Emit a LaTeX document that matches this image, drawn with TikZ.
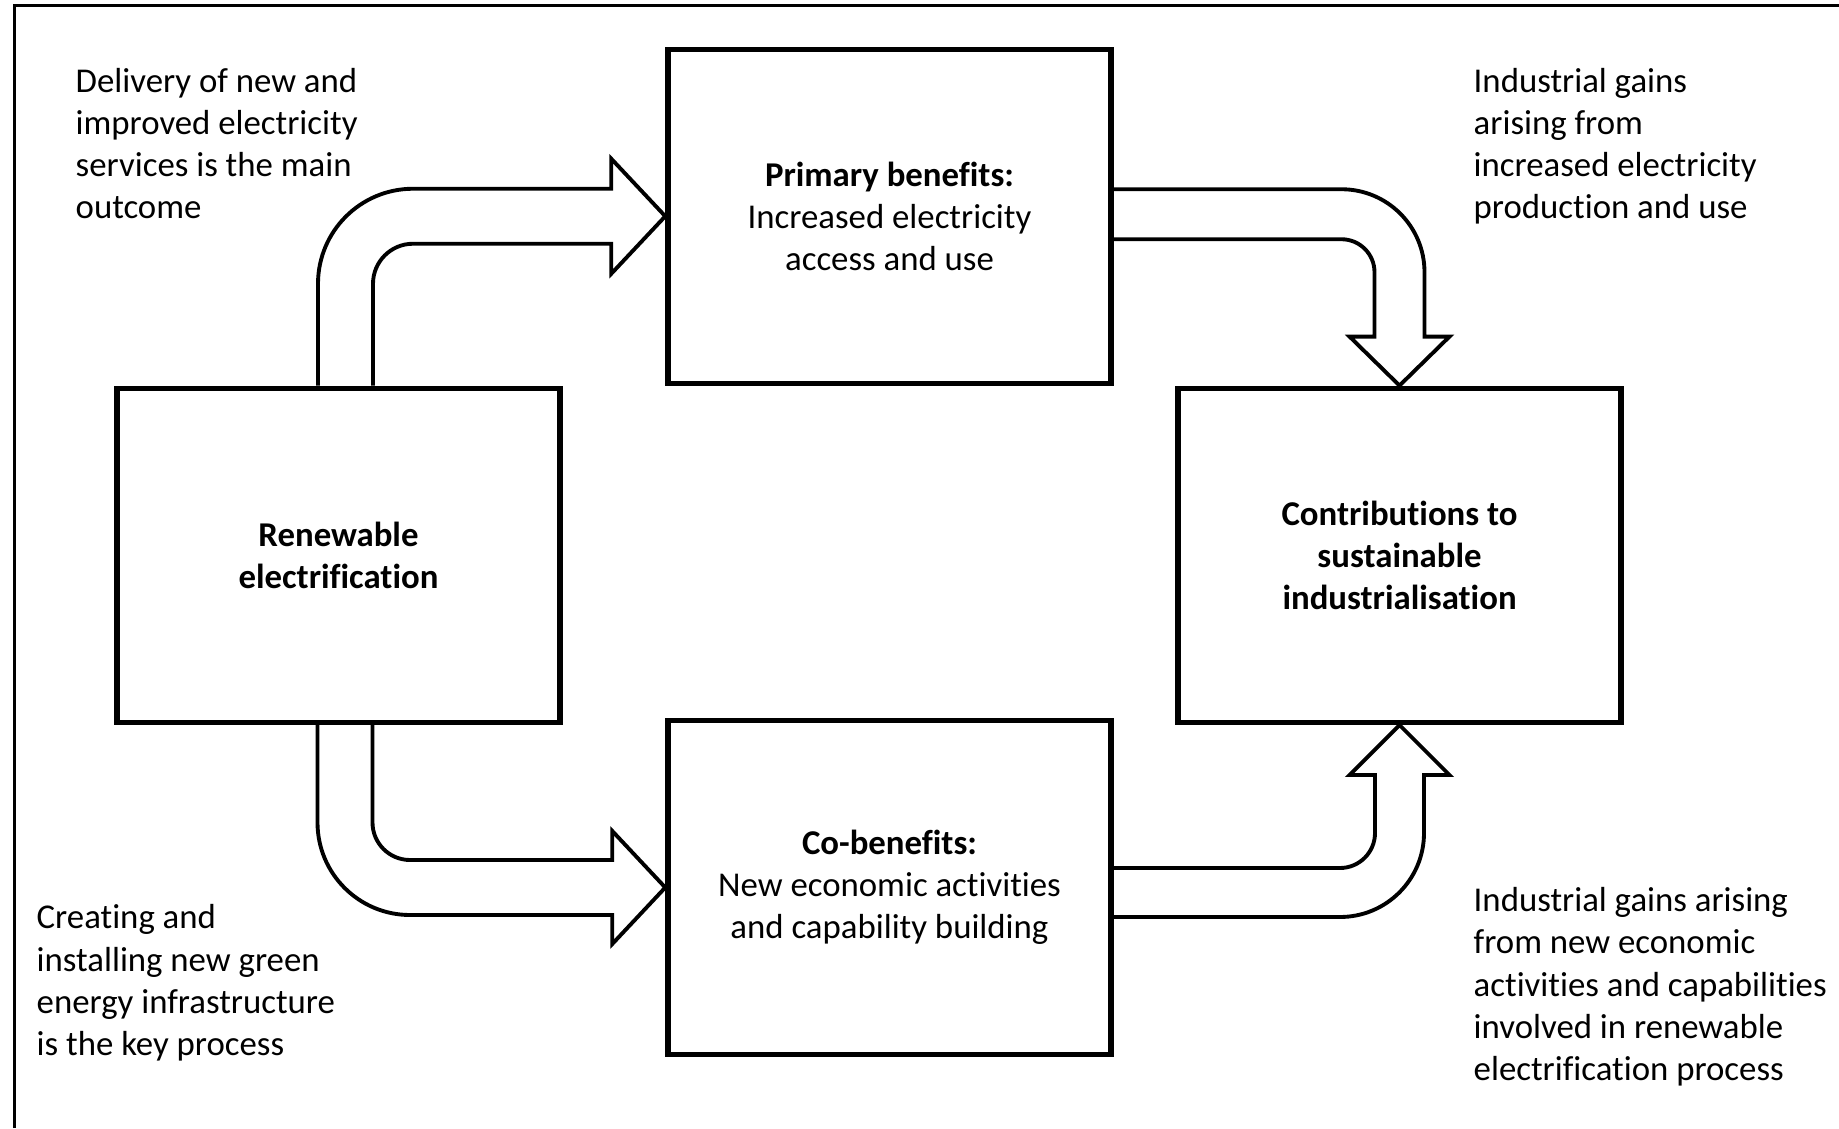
\documentclass[tikz,border=0pt]{standalone}
\usepackage{fontspec}
\setmainfont{Carlito}[Ligatures={NoCommon}]
\usetikzlibrary{calc}
\tikzset{
  stage/.style={
    draw, line width=1.55pt, minimum width=4.43cm, minimum height=3.34cm,
    align=center, font=\fontsize{9.9}{12}\selectfont
  },
  note/.style={
    anchor=base west, align=left, inner sep=0pt,
    font=\fontsize{9.9}{12}\selectfont
  },
  bigarrow/.style={draw, line width=1.1pt, line join=miter}
}

\begin{document}
\begin{tikzpicture}
    \useasboundingbox (0,0) rectangle (18.39,11.28);
    \draw[line width=0.75pt] (0.147,0) -- (0.147,11.227) -- (18.39,11.227);
    \node[stage] (ren) at (3.385,5.727) {\textbf{Renewable}\\\textbf{electrification}};
    \node[stage] (prim) at (8.895,9.1175) {\textbf{Primary benefits:}\\Increased electricity\\access and use};
    \node[stage] (co) at (8.895,2.405) {\textbf{Co-benefits:}\\New economic activities\\and capability building};
    \node[stage] (cont) at (13.995,5.727) {\textbf{Contributions to}\\\textbf{sustainable}\\\textbf{industrialisation}};
    \draw[bigarrow] let \p1=($(ren.north)+(0.07,0)$), \p2=(prim.west) in
      (\x1-0.275cm,\y1) -- (\x1-0.275cm,\y2-0.675cm)
      arc[start angle=180,end angle=90,radius=0.95cm]
      -- (\x2-0.54cm,\y2+0.275cm) -- (\x2-0.54cm,\y2+0.575cm) -- (\p2)
      -- (\x2-0.54cm,\y2-0.575cm) -- (\x2-0.54cm,\y2-0.275cm)
      -- (\x1+0.675cm,\y2-0.275cm)
      arc[start angle=90,end angle=180,radius=0.4cm]
      -- (\x1+0.275cm,\y1);
    \draw[bigarrow] let \p1=($(ren.south)+(0.065,0)$), \p2=(co.west) in
      (\x1-0.275cm,\y1) -- (\x1-0.275cm,\y2+0.65cm)
      arc[start angle=180,end angle=270,radius=0.925cm]
      -- (\x2-0.53cm,\y2-0.275cm) -- (\x2-0.53cm,\y2-0.565cm) -- (\p2)
      -- (\x2-0.53cm,\y2+0.565cm) -- (\x2-0.53cm,\y2+0.275cm)
      -- (\x1+0.65cm,\y2+0.275cm)
      arc[start angle=270,end angle=180,radius=0.375cm]
      -- (\x1+0.275cm,\y1);
    \draw[bigarrow] let \p1=($(prim.east)+(0,0.02)$), \p2=(cont.north) in
      (\x1,\y1+0.25cm) -- (\x2-0.58cm,\y1+0.25cm)
      arc[start angle=90,end angle=0,radius=0.83cm]
      -- (\x2+0.25cm,\y2+0.49cm) -- (\x2+0.5cm,\y2+0.49cm) -- (\p2)
      -- (\x2-0.5cm,\y2+0.49cm) -- (\x2-0.25cm,\y2+0.49cm)
      -- (\x2-0.25cm,\y1-0.58cm)
      arc[start angle=0,end angle=90,radius=0.33cm]
      -- (\x1,\y1-0.25cm);
    \draw[bigarrow] let \p1=($(co.east)+(0,-0.05)$), \p2=(cont.south) in
      (\x1,\y1-0.245cm) -- (\x2-0.595cm,\y1-0.245cm)
      arc[start angle=270,end angle=360,radius=0.84cm]
      -- (\x2+0.245cm,\y2-0.5cm) -- (\x2+0.5cm,\y2-0.5cm) -- (\p2)
      -- (\x2-0.5cm,\y2-0.5cm) -- (\x2-0.245cm,\y2-0.5cm)
      -- (\x2-0.245cm,\y1+0.595cm)
      arc[start angle=0,end angle=-90,radius=0.35cm]
      -- (\x1,\y1+0.245cm);
    \node[note] (delivery) at (0.75,9.092) {Delivery of new and\\improved electricity\\services is the main\\outcome};
    \node[note] (gainsa) at (14.73,9.092) {Industrial gains\\arising from\\increased electricity\\production and use};
    \node[note] (creating) at (0.36,0.725) {Creating and\\installing new green\\energy infrastructure\\is the key process};
    \node[note] (gainsb) at (14.73,0.475) {Industrial gains arising\\from new economic\\activities and capabilities\\involved in renewable\\electrification process};
  \end{tikzpicture}
\end{document}
